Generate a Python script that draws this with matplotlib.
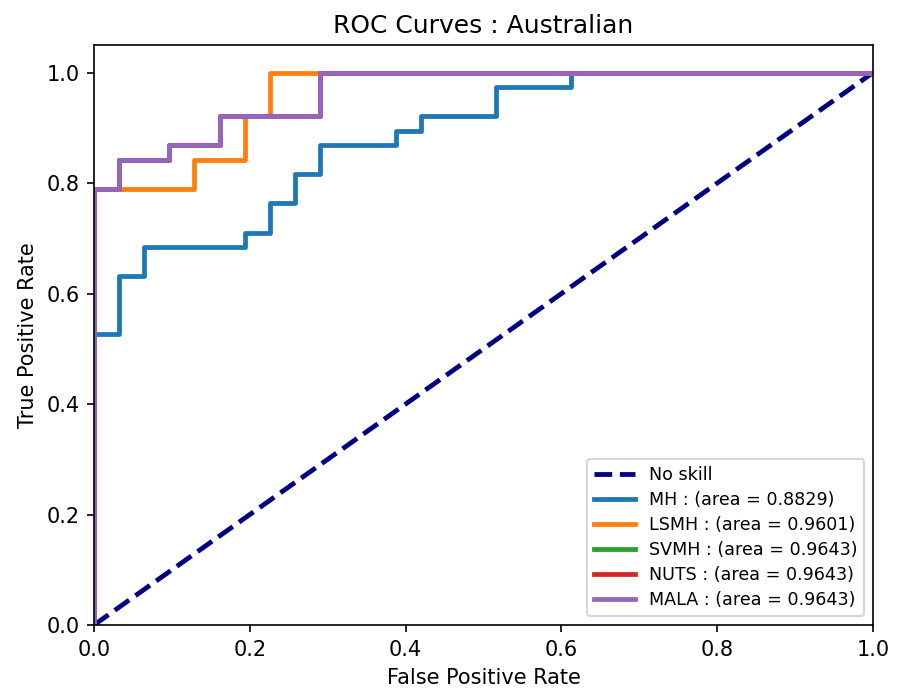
import matplotlib
matplotlib.use("Agg")
import matplotlib.pyplot as plt

# ROC points (fpr, tpr) as returned by roc_curve
mh_fpr = [0.0, 0.0, 0.0323, 0.0323, 0.0645, 0.0645, 0.1935, 0.1935, 0.2258, 0.2258,
          0.2581, 0.2581, 0.2903, 0.2903, 0.3871, 0.3871, 0.4194, 0.4194,
          0.5161, 0.5161, 0.6129, 0.6129, 1.0]
mh_tpr = [0.0, 0.5263, 0.5263, 0.6316, 0.6316, 0.6842, 0.6842, 0.7105, 0.7105, 0.7632,
          0.7632, 0.8158, 0.8158, 0.8684, 0.8684, 0.8947, 0.8947, 0.9211,
          0.9211, 0.9737, 0.9737, 1.0, 1.0]

lsmh_fpr = [0.0, 0.0, 0.1290, 0.1290, 0.1935, 0.1935, 0.2258, 0.2258, 1.0]
lsmh_tpr = [0.0, 0.7895, 0.7895, 0.8421, 0.8421, 0.9211, 0.9211, 1.0, 1.0]

# SVMH, NUTS and MALA give the same curve
mala_fpr = [0.0, 0.0, 0.0323, 0.0323, 0.0968, 0.0968, 0.1613, 0.1613, 0.2903, 0.2903, 1.0]
mala_tpr = [0.0, 0.7895, 0.7895, 0.8421, 0.8421, 0.8684, 0.8684, 0.9211, 0.9211, 1.0, 1.0]

courbes = [
    ("MH", mh_fpr, mh_tpr, 0.8829, "tab:blue"),
    ("LSMH", lsmh_fpr, lsmh_tpr, 0.9601, "tab:orange"),
    ("SVMH", mala_fpr, mala_tpr, 0.9643, "tab:green"),
    ("NUTS", mala_fpr, mala_tpr, 0.9643, "tab:red"),
    ("MALA", mala_fpr, mala_tpr, 0.9643, "tab:purple"),
]

fig, ax = plt.subplots(figsize=(897 / 150, 693 / 150), dpi=150)
ax.plot([0, 1], [0, 1], color="navy", lw=2.3, linestyle="--", label="No skill")
for nom, fpr, tpr, aire, couleur in courbes:
    ax.plot(fpr, tpr, color=couleur, lw=2.3, label=f"{nom} : (area = {aire:.4f})")

ax.set_xlim([0.0, 1.0])
ax.set_ylim([0.0, 1.05])
ax.set_xlabel("False Positive Rate")
ax.set_ylabel("True Positive Rate")
ax.set_title("ROC Curves : Australian")
ax.legend(loc="lower right", fontsize=8.4, handlelength=2.3, labelspacing=0.4)
fig.subplots_adjust(left=0.1048, right=0.9732, top=0.935, bottom=0.0981)
fig.savefig("out.png", dpi=150)
